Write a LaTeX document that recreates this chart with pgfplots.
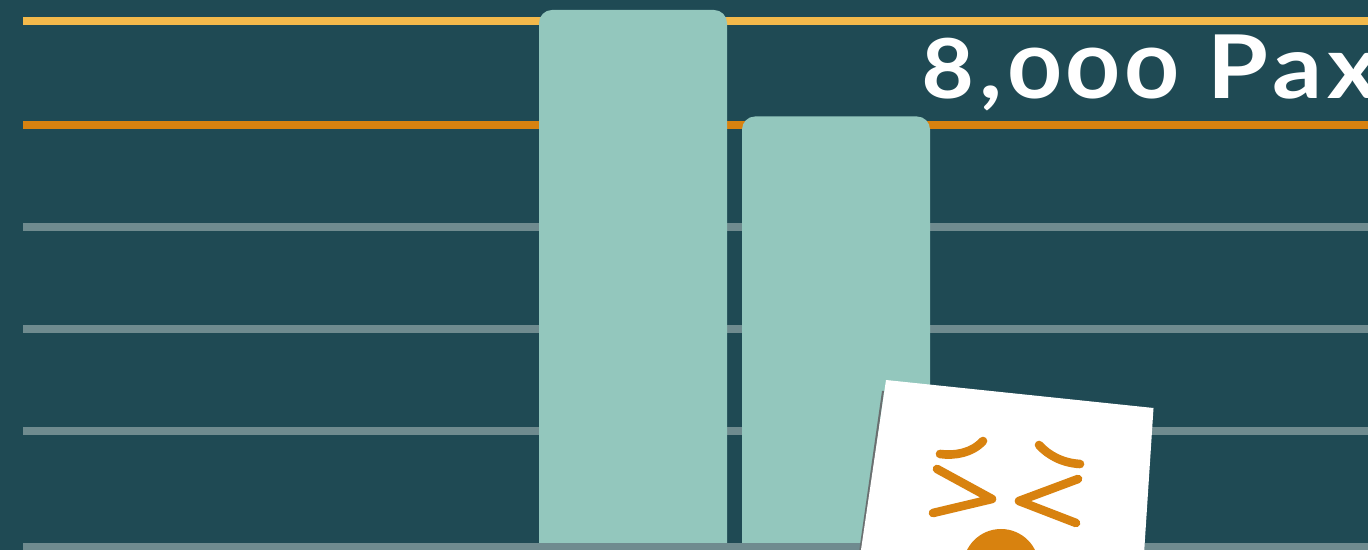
\documentclass[border=0pt]{standalone}
\usepackage{fontspec}
\setmainfont{Lato}
\newfontfamily\paxfont[Numbers=OldStyle,LetterSpace=6,FakeStretch=1.12]{Lato Bold}
\usepackage{pgfplots}
\pgfplotsset{compat=1.18}
\definecolor{cBg}{HTML}{1F4A54}
\definecolor{cBar}{HTML}{93C7BD}
\definecolor{cYellow}{HTML}{F3B94B}
\definecolor{cOrange}{HTML}{D8820F}
\definecolor{cGrid}{HTML}{6F8B8F}
\definecolor{cShadow}{HTML}{6A6F70}
\begin{document}
\begin{tikzpicture}
\useasboundingbox (0,0) rectangle (684pt,275pt);
\clip (0,0) rectangle (684pt,275pt);
\fill[cBg] (0,0) rectangle (684pt,275pt);
\begin{axis}[
  at={(0,275pt)}, anchor=north west,
  scale only axis, width=684pt, height=290pt,
  xmin=0, xmax=1368, ymin=3526, ymax=9229.1,
  axis lines=none, xtick=\empty, ytick=\empty,
  every axis plot/.append style={line cap=butt},
]
% levels
\addplot[cYellow, line width=4pt, no markers] coordinates {(23,9022.6)(1368,9022.6)};
\addplot[cOrange, line width=4pt, no markers] coordinates {(23,8000)(1368,8000)};
\addplot[cGrid, line width=4pt, no markers] coordinates {(23,7000)(1368,7000)};
\addplot[cGrid, line width=4pt, no markers] coordinates {(23,5993)(1368,5993)};
\addplot[cGrid, line width=4pt, no markers] coordinates {(23,4993)(1368,4993)};
% bars run on below the page, so only the top corners show
\addplot[ybar, bar width=94pt, bar shift=0pt, fill=cBar, draw=none, rounded corners=6.5pt]
  coordinates {(633,9130.8)(836,8083.6)};
\addplot[cGrid, line width=4pt, no markers] coordinates {(23,3850.5)(1368,3850.5)};
\node[anchor=base west, inner sep=0pt, text=white, font=\fontsize{44}{44}\selectfont\paxfont]
  at (axis cs:921,8255.7) {8,000 Pax};
\end{axis}
% sticker, in image pixels from the top left
\begin{scope}[shift={(0,275pt)}, x=0.5pt, y=-0.5pt]
\fill[cShadow] (882,391) -- (884,391) -- (862,552) -- (859,552) -- cycle;
\fill[white] (886,380) -- (1153.5,408) -- (1141,600) -- (853.6,600) -- cycle;
\begin{scope}[cOrange, line width=4.3pt, line cap=round, line join=round]
\draw (940,454) .. controls (955,456) and (972,453) .. (983,441);
\draw (1039,445) .. controls (1048,455) and (1062,463) .. (1080,464);
\draw (937,469) -- (992,499) -- (933,513);
\draw (1078,479) -- (1019,501) -- (1076,523);
\end{scope}
\fill[cOrange] (1001,567) circle[radius=19pt];
\end{scope}
\end{tikzpicture}
\end{document}
